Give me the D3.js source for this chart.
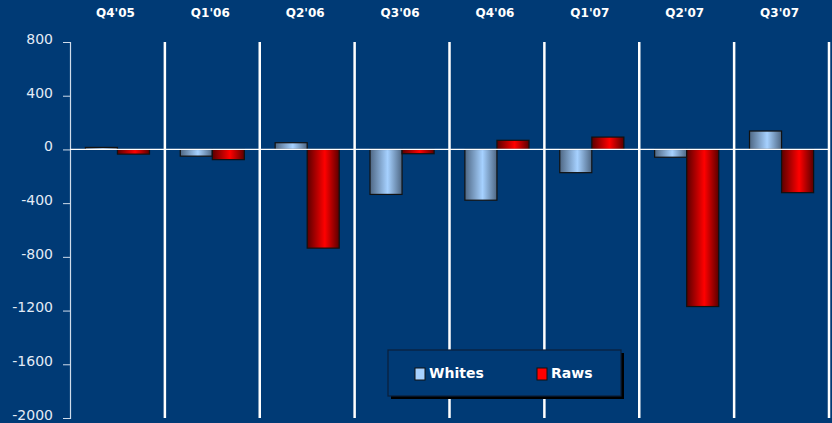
<!DOCTYPE html>
<html>
<head>
<meta charset="utf-8">
<script src="https://cdn.jsdelivr.net/npm/d3@7"></script>
<style>
  body { margin: 0; background: #003a75; }
  svg { display: block; }
</style>
</head>
<body>
<div id="chart"></div>
<script>
// data
var quarters = ["Q4'05", "Q1'06", "Q2'06", "Q3'06", "Q4'06", "Q1'07", "Q2'07", "Q3'07"];
var whites = [15, -50, 50, -335, -378, -173, -58, 137];
var raws = [-35, -76, -735, -32, 68, 92, -1170, -322];
var seriesNames = ["Whites", "Raws"];
var yTicks = [800, 400, 0, -400, -800, -1200, -1600, -2000];

var W = 832, H = 423;
var margin = {top: 42, right: 3, bottom: 5, left: 70};

var svg = d3.select("#chart")
  .append("svg")
  .attr("width", W)
  .attr("height", H);

svg.append("rect")
  .attr("width", W).attr("height", H)
  .attr("fill", "#003a75");

/****** GRADIENTS ******/
var defs = svg.append("defs");
function barGradient(id, edge, mid) {
  var g = defs.append("linearGradient")
    .attr("id", id)
    .attr("x1", "0%").attr("x2", "100%")
    .attr("y1", "0%").attr("y2", "0%");
  g.append("stop").attr("offset", "0%").attr("stop-color", edge);
  g.append("stop").attr("offset", "55%").attr("stop-color", mid);
  g.append("stop").attr("offset", "100%").attr("stop-color", edge);
}
barGradient("gWhite", "#4e6784", "#a6d1ff");
barGradient("gRed", "#5a0000", "#ff0000");

/****** SCALES ******/
var x0 = d3.scaleBand()
  .domain(quarters)
  .range([margin.left, 829])
  .paddingInner(0)
  .paddingOuter(0);

var x1 = d3.scaleBand()
  .domain(seriesNames)
  .range([0, x0.bandwidth()])
  .paddingInner(0)
  .paddingOuter(0.48);

var y = d3.scaleLinear()
  .domain([-2000, 800])
  .range([418, margin.top]);

/****** Y AXIS ******/
var yAxis = svg.append("g")
  .attr("transform", "translate(" + margin.left + ",0)")
  .call(d3.axisLeft(y).tickValues(yTicks).tickSize(7).tickPadding(10)
    .tickFormat(function(d) { return String(d); }));
yAxis.select(".domain").attr("stroke", "#d0dceb").attr("stroke-width", 1.2);
yAxis.selectAll(".tick line").attr("stroke", "#d0dceb");
yAxis.selectAll(".tick text")
  .attr("fill", "#e3ebf5")
  .attr("dy", "0.1em")
  .style("font-family", "Verdana, 'DejaVu Sans', sans-serif")
  .style("font-size", "14px");

/****** SEPARATORS ******/
svg.append("g")
  .selectAll("line")
  .data(quarters)
  .enter()
  .append("line")
    .attr("x1", function(d) { return x0(d) + x0.bandwidth(); })
    .attr("x2", function(d) { return x0(d) + x0.bandwidth(); })
    .attr("y1", y(800))
    .attr("y2", y(-2000))
    .attr("stroke", "#ffffff")
    .attr("stroke-width", 2.5);

/****** CATEGORY LABELS ******/
svg.append("g")
  .selectAll("text")
  .data(quarters)
  .enter()
  .append("text")
    .attr("x", function(d) { return x0(d) + x0.bandwidth() / 2 - 2; })
    .attr("y", 17)
    .attr("text-anchor", "middle")
    .attr("fill", "#ffffff")
    .style("font-family", "Verdana, 'DejaVu Sans', sans-serif")
    .style("font-weight", "bold")
    .style("font-size", "12px")
    .text(function(d) { return d; });

/****** BARS ******/
var rows = quarters.map(function(q, i) {
  return {q: q, vals: [{s: "Whites", v: whites[i]}, {s: "Raws", v: raws[i]}]};
});
var fills = {Whites: "url(#gWhite)", Raws: "url(#gRed)"};

svg.append("g")
  .selectAll("g")
  .data(rows)
  .enter()
  .append("g")
    .attr("transform", function(d) { return "translate(" + x0(d.q) + ",0)"; })
  .selectAll("rect")
  .data(function(d) { return d.vals; })
  .enter()
  .append("rect")
    .attr("x", function(d) { return x1(d.s); })
    .attr("width", x1.bandwidth())
    .attr("y", function(d) { return y(Math.max(0, d.v)); })
    .attr("height", function(d) { return Math.abs(y(d.v) - y(0)); })
    .attr("fill", function(d) { return fills[d.s]; })
    .attr("stroke", "#111111")
    .attr("stroke-width", 1.2);

// zero line
svg.append("line")
  .attr("x1", margin.left).attr("x2", 829)
  .attr("y1", y(0)).attr("y2", y(0))
  .attr("stroke", "#ffffff")
  .attr("stroke-width", 1.2);

/****** LEGEND ******/
var lg = svg.append("g").attr("transform", "translate(388,350)");
lg.append("rect")
  .attr("x", 3).attr("y", 3)
  .attr("width", 233).attr("height", 46)
  .attr("fill", "#000000");
lg.append("rect")
  .attr("width", 233).attr("height", 46)
  .attr("fill", "#003a75")
  .attr("stroke", "#0a1e3a")
  .attr("stroke-width", 1.2);

var items = lg.selectAll(".item")
  .data(seriesNames)
  .enter()
  .append("g")
    .attr("transform", function(d, i) { return "translate(" + (27 + i * 122) + ",18)"; });
items.append("rect")
  .attr("width", 10).attr("height", 12)
  .attr("fill", function(d) { return d === "Whites" ? "#a6d1ff" : "#ff0000"; })
  .attr("stroke", "#111111")
  .attr("stroke-width", 1);
items.append("text")
  .attr("x", 14).attr("y", 10)
  .attr("fill", "#ffffff")
  .style("font-family", "Verdana, 'DejaVu Sans', sans-serif")
  .style("font-weight", "bold")
  .style("font-size", "14px")
  .text(function(d) { return d; });
</script>
</body>
</html>
